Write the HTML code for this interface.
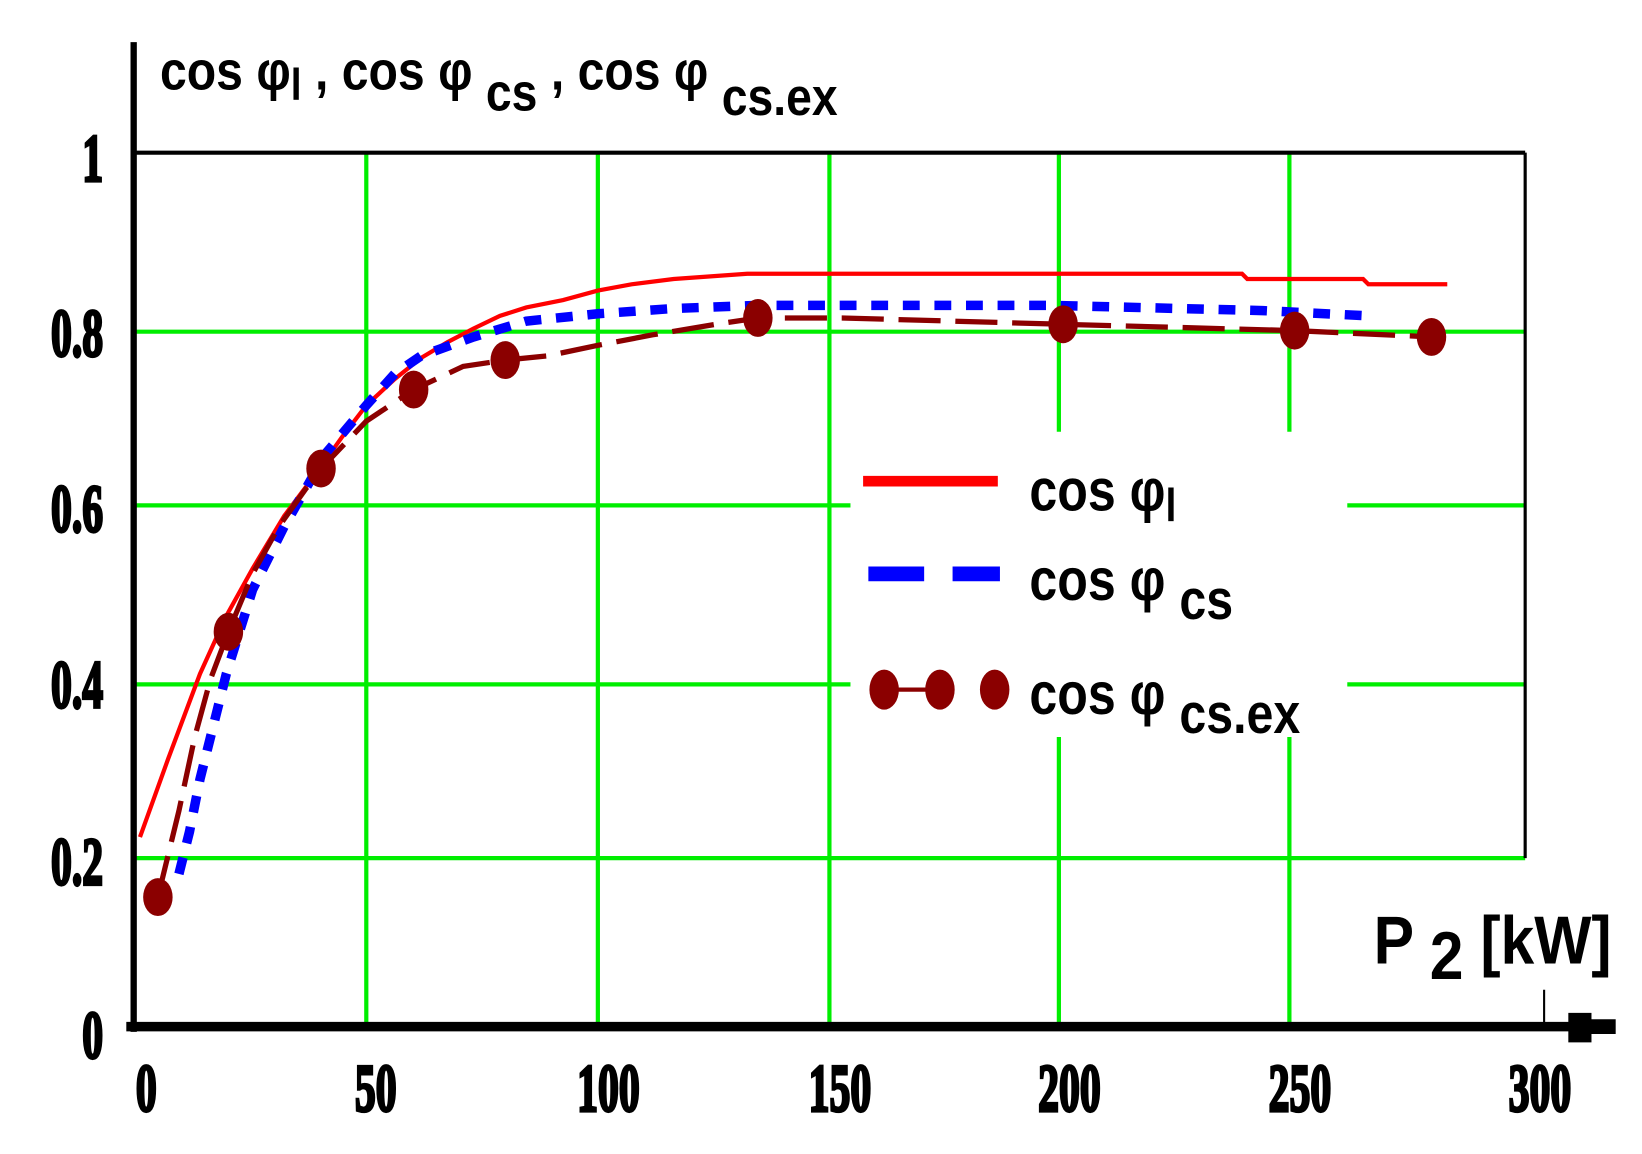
<!DOCTYPE html>
<html><head><meta charset="utf-8"><style>html,body{margin:0;padding:0;background:#fff}svg{display:block}</style></head>
<body>
<svg width="1642" height="1154" viewBox="0 0 1560 1096" preserveAspectRatio="none" xmlns="http://www.w3.org/2000/svg">
<rect width="1560" height="1096" fill="#fff"/>
<g stroke="#00ee00" stroke-width="4">
<line x1="128" y1="315" x2="1449" y2="315"/>
<line x1="128" y1="480" x2="808" y2="480"/><line x1="1280" y1="480" x2="1449" y2="480"/>
<line x1="128" y1="650" x2="808" y2="650"/><line x1="1280" y1="650" x2="1449" y2="650"/>
<line x1="128" y1="815" x2="1449" y2="815"/>
<line x1="348" y1="145" x2="348" y2="975"/>
<line x1="568" y1="145" x2="568" y2="975"/>
<line x1="788" y1="145" x2="788" y2="975"/>
<line x1="1006" y1="145" x2="1006" y2="410"/><line x1="1006" y1="700" x2="1006" y2="975"/>
<line x1="1225" y1="145" x2="1225" y2="410"/><line x1="1225" y1="700" x2="1225" y2="975"/>
</g>
<g stroke="#000" fill="none">
<line x1="128" y1="145" x2="1449" y2="145" stroke-width="4"/>
<line x1="1449" y1="145" x2="1449" y2="815" stroke-width="3"/>
<line x1="127" y1="40" x2="127" y2="980" stroke-width="6"/>
<line x1="120" y1="975" x2="1495" y2="975" stroke-width="9"/>
<line x1="1467" y1="940" x2="1467" y2="975" stroke-width="2"/>
</g>
<polygon points="1490,962 1512,962 1512,968 1535,968 1535,982 1512,982 1512,990 1490,990" fill="#000"/>
<polyline fill="none" stroke="#ff0000" stroke-width="4" points="133,795 160,720 190,640 215,585 240,540 270,490 300,450 325,415 348,385 375,360 400,340 425,325 450,312 475,300 500,292 535,285 568,276 600,270 640,265 710,260 1180,260 1185,265 1295,265 1300,270 1375,270"/>
<polyline fill="none" stroke="#0000ff" stroke-width="9" stroke-dasharray="16,14" points="170,830 180,790 190,740 200,700 215,640 240,560 270,500 310,430 348,385 375,355 400,338 450,320 500,305 568,298 640,293 720,290 1000,290 1200,295 1300,300"/>
<polyline fill="none" stroke="#8b0000" stroke-width="5" stroke-dasharray="40,14" points="150,852 170,770 185,700 200,645 217,600 240,545 265,500 290,465 305,445 348,400 393,370 440,348 480,342 520,338 568,328 620,318 680,308 720,302 800,302 1010,308 1230,314 1360,320"/>
<g fill="#8b0000">
<ellipse cx="150" cy="852" rx="14" ry="18"/><ellipse cx="217" cy="600" rx="14" ry="18"/>
<ellipse cx="305" cy="445" rx="14" ry="18"/><ellipse cx="393" cy="370" rx="14" ry="18"/>
<ellipse cx="480" cy="342" rx="14" ry="18"/><ellipse cx="720" cy="302" rx="14" ry="18"/>
<ellipse cx="1010" cy="308" rx="14" ry="18"/><ellipse cx="1230" cy="314" rx="14" ry="18"/>
<ellipse cx="1360" cy="320" rx="14" ry="18"/>
</g>
<line x1="820" y1="457" x2="948" y2="457" stroke="#ff0000" stroke-width="10"/>
<line x1="825" y1="545" x2="878" y2="545" stroke="#0000ff" stroke-width="14"/>
<line x1="905" y1="545" x2="950" y2="545" stroke="#0000ff" stroke-width="14"/>
<line x1="840" y1="655" x2="893" y2="655" stroke="#8b0000" stroke-width="4"/>
<g fill="#8b0000"><ellipse cx="840" cy="655" rx="14" ry="19"/><ellipse cx="893" cy="655" rx="14" ry="19"/><ellipse cx="945" cy="655" rx="14" ry="19"/></g>
<g font-family="Liberation Sans, sans-serif" font-weight="bold" fill="#000">
<g transform="translate(978,485) scale(0.85,1)" font-size="56"><text>cos φ<tspan font-size="44" dy="10">l</tspan></text></g>
<g transform="translate(978,570) scale(0.85,1)" font-size="56"><text>cos φ <tspan font-size="54" dy="18">cs</tspan></text></g>
<g transform="translate(978,678) scale(0.85,1)" font-size="56"><text>cos φ <tspan font-size="54" dy="18">cs.ex</tspan></text></g>
<g transform="translate(152,85) scale(0.88,1)" font-size="52"><text>cos φ<tspan font-size="42" dy="10">l</tspan><tspan dy="-10"> , cos φ </tspan><tspan font-size="50" dy="20">cs</tspan><tspan dy="-20"> , cos φ </tspan><tspan font-size="50" dy="24">cs.ex</tspan></text></g>
<g transform="translate(1305,915) scale(0.9,1)" font-size="64"><text>P <tspan dy="15">2</tspan><tspan dy="-15"> [kW]</tspan></text></g>
</g>
<g font-family="Liberation Serif, serif" font-weight="bold" font-size="64" fill="#000" text-anchor="middle" stroke="#000" stroke-width="3">
<text transform="translate(139,1055) scale(0.62,1)">0</text>
<text transform="translate(357,1055) scale(0.62,1)">50</text>
<text transform="translate(578,1055) scale(0.62,1)">100</text>
<text transform="translate(798,1055) scale(0.62,1)">150</text>
<text transform="translate(1016,1055) scale(0.62,1)">200</text>
<text transform="translate(1235,1055) scale(0.62,1)">250</text>
<text transform="translate(1463,1055) scale(0.62,1)">300</text>
</g>
<g font-family="Liberation Serif, serif" font-weight="bold" font-size="64" fill="#000" text-anchor="end" stroke="#000" stroke-width="3">
<text transform="translate(98,1005) scale(0.62,1)">0</text>
<text transform="translate(98,840) scale(0.62,1)">0.2</text>
<text transform="translate(98,672) scale(0.62,1)">0.4</text>
<text transform="translate(98,505) scale(0.62,1)">0.6</text>
<text transform="translate(98,338) scale(0.62,1)">0.8</text>
<text transform="translate(98,172) scale(0.62,1)">1</text>
</g>
</svg>
</body></html>
